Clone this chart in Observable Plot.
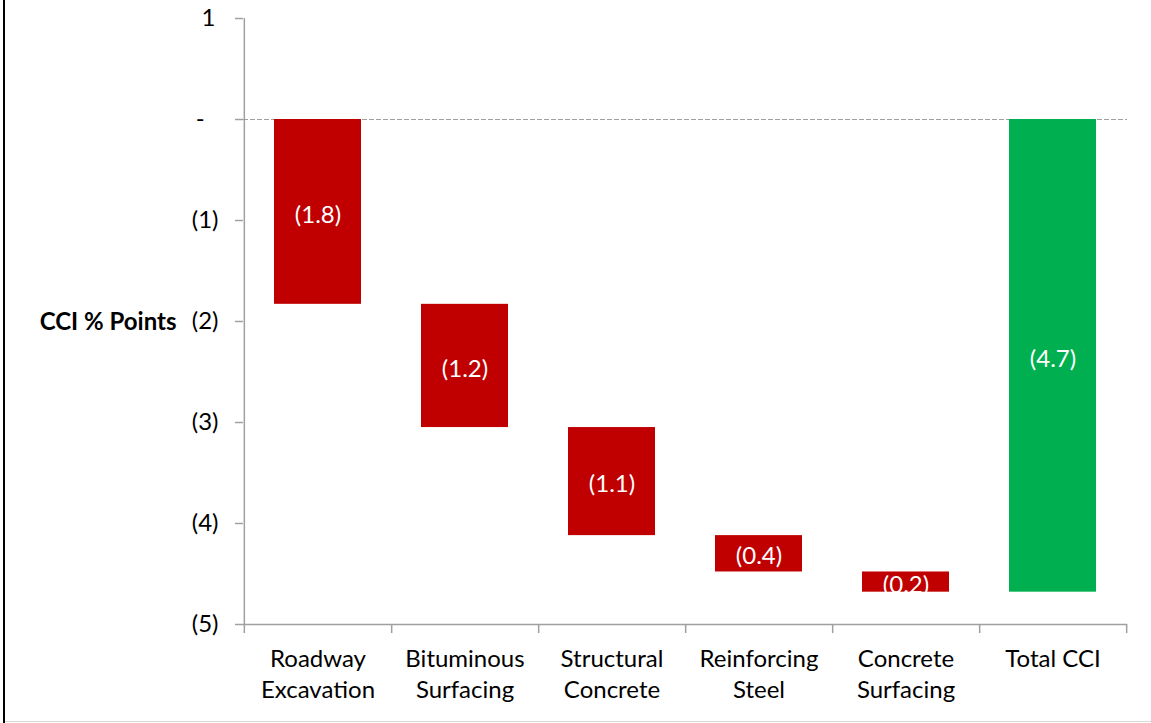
<!DOCTYPE html>
<html>
<head>
<meta charset="utf-8">
<script src="https://cdn.jsdelivr.net/npm/d3@7"></script>
<script src="https://cdn.jsdelivr.net/npm/@observablehq/plot@0.6"></script>
<style>
  html, body { margin: 0; padding: 0; background: #fff; }
  #wrap { position: relative; width: 1151px; height: 723px; overflow: hidden; }
  #wrap svg { position: absolute; left: 0; top: 0; }
  .bl { position: absolute; left: 3px; top: 0; width: 2px; height: 723px; background: #000; }
  .bb { position: absolute; left: 5px; top: 721px; width: 1146px; height: 1px; background: #d9d9d9; }
</style>
</head>
<body>
<div id="wrap"><div class="bl"></div><div class="bb"></div></div>
<script>
// ---- data ----
const categories = ["Roadway Excavation", "Bituminous Surfacing", "Structural Concrete", "Reinforcing Steel", "Concrete Surfacing", "Total CCI"];
const tickLabels = ["Roadway\nExcavation", "Bituminous\nSurfacing", "Structural\nConcrete", "Reinforcing\nSteel", "Concrete\nSurfacing", "Total CCI"];
const changes = [-1.83, -1.22, -1.07, -0.36, -0.20];
const totalValue = -4.68;
const yTicks = [1, 0, -1, -2, -3, -4, -5];
const yDomain = [-5, 1];
const yLabel = "CCI % Points";

// ---- build waterfall table ----
const rows = [];
let run = 0;
changes.forEach((v, i) => {
  rows.push({cat: categories[i], value: v, start: run, end: run + v, total: false});
  run += v;
});
rows.push({cat: categories[categories.length - 1], value: totalValue, start: 0, end: totalValue, total: true});

const W = 1151, H = 723, mL = 243, mR = 24, mT = 18, mB = 99;
const step = (W - mL - mR) / categories.length;
const plotH = H - mT - mB;
const AX = "#a0a0a0";
const RED = "#C00000", GREEN = "#00B050";
const FONT = "Lato, 'Open Sans', sans-serif";
const FS = 24;

const fmtY = d => d === 0 ? "-\u2007" : d > 0 ? d + "\u2009" : `(${Math.abs(d)})`;

const chart = Plot.plot({
  width: W, height: H,
  marginLeft: mL, marginRight: mR, marginTop: mT, marginBottom: mB,
  style: {fontFamily: FONT, fontSize: FS + "px", color: "#000", background: "transparent"},
  x: {domain: categories, paddingInner: 0.41, paddingOuter: 0.205, axis: null},
  y: {domain: yDomain, axis: null},
  marks: [
    Plot.ruleY([0], {stroke: AX, strokeWidth: 1, strokeDasharray: "5,2"}),
    Plot.barY(rows, {x: "cat", y1: "start", y2: "end", fill: d => d.total ? GREEN : RED}),
    Plot.text(rows, {x: "cat", y: d => (d.start + d.end) / 2, text: d => `(${Math.abs(d.value).toFixed(1)})`, fill: "white", fontSize: FS, dy: 3}),
    // axes lines
    Plot.ruleY([yDomain[0]], {stroke: AX, strokeWidth: 1.5}),
    Plot.ruleX([categories[0]], {dx: -step / 2, insetBottom: -9, stroke: AX, strokeWidth: 1.5}),
    Plot.ruleX(categories, {dx: step / 2, insetTop: plotH, insetBottom: -9, stroke: AX, strokeWidth: 1.5}),
    Plot.axisY({ticks: yTicks, tickSize: 8, tickPadding: 17, tickFormat: fmtY, stroke: AX, strokeWidth: 1.5, fill: "#000", fontSize: FS, label: null}),
    Plot.text(categories, {x: d => d, text: (d, i) => tickLabels[i], frameAnchor: "bottom", lineAnchor: "top", dy: 20, lineHeight: 1.3, fill: "#000", fontSize: FS}),
    Plot.text([yLabel], {frameAnchor: "left", textAnchor: "end", dx: -67, dy: 1, fontWeight: "bold", fontSize: FS, fill: "#000"})
  ]
});
document.getElementById("wrap").appendChild(chart);
</script>
</body>
</html>
